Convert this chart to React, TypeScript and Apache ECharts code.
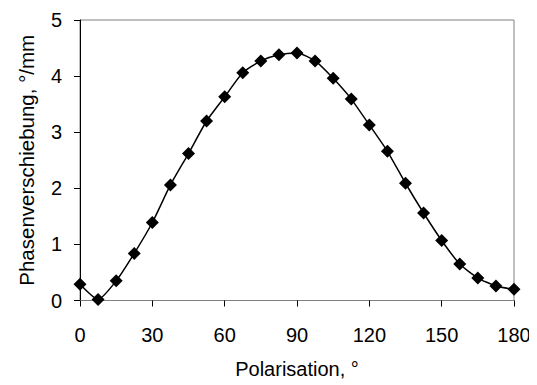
import React, { useEffect, useRef } from "react";
import * as echarts from "echarts";

const angles = [0, 7.5, 15, 22.5, 30, 37.5, 45, 52.5, 60, 67.5, 75, 82.5, 90, 97.5, 105, 112.5, 120, 127.5, 135, 142.5, 150, 157.5, 165, 172.5, 180];
const phase = [0.29, 0.02, 0.35, 0.84, 1.39, 2.06, 2.62, 3.2, 3.63, 4.06, 4.27, 4.38, 4.41, 4.27, 3.96, 3.59, 3.13, 2.66, 2.09, 1.56, 1.07, 0.65, 0.4, 0.26, 0.2];

export default function App() {
  const ref = useRef<HTMLDivElement>(null);
  useEffect(() => {
    if (!ref.current) return;
    const chart = echarts.init(ref.current, undefined, { renderer: "svg" });
    const font = "Liberation Sans, Arial, sans-serif";
    chart.setOption({
      animation: false,
      backgroundColor: "#fff",
      grid: {
        left: 70,
        right: 23,
        top: 12,
        bottom: 84.5,
        show: true,
        borderColor: "#808080",
        borderWidth: 1,
      },
      xAxis: {
        type: "value",
        min: 0,
        max: 180,
        interval: 30,
        name: "Polarisation, °",
        nameLocation: "middle",
        nameGap: 58,
        nameTextStyle: { fontFamily: font, fontSize: 20, color: "#000" },
        axisLine: { show: true, onZero: false, lineStyle: { color: "#808080", width: 1 } },
        axisTick: { show: true, inside: false, length: 6, lineStyle: { color: "#000" } },
        axisLabel: { fontFamily: font, fontSize: 20, color: "#000", margin: 24 },
        splitLine: { show: false },
      },
      yAxis: {
        type: "value",
        min: 0,
        max: 5,
        interval: 1,
        name: "Phasenverschiebung, °/mm",
        nameLocation: "middle",
        nameRotate: 90,
        nameGap: 43,
        nameTextStyle: { fontFamily: font, fontSize: 20.5, color: "#000" },
        axisLine: { show: true, lineStyle: { color: "#000", width: 1 } },
        axisTick: { show: true, inside: false, length: 6, lineStyle: { color: "#000" } },
        axisLabel: { fontFamily: font, fontSize: 20, color: "#000", margin: 18 },
        splitLine: { show: false },
      },
      series: [
        {
          type: "line",
          data: angles.map((a, i) => [a, phase[i]]),
          smooth: 0.2,
          symbol: "diamond",
          symbolSize: 13,
          itemStyle: { color: "#000" },
          lineStyle: { color: "#000", width: 1.5 },
        },
      ],
    });
    return () => chart.dispose();
  }, []);
  return <div ref={ref} style={{ width: 529, height: 377 }} />;
}
